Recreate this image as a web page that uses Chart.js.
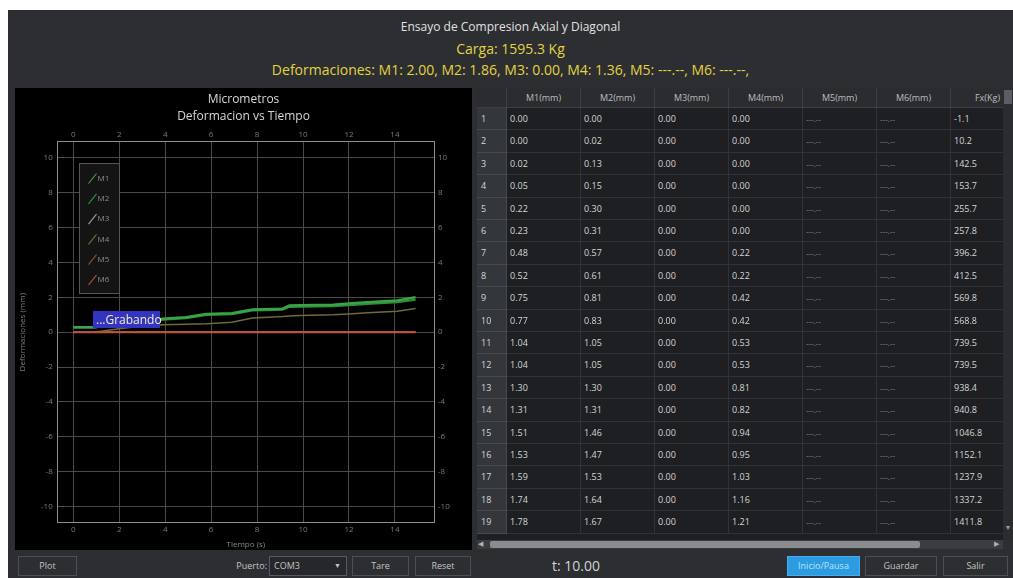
<!DOCTYPE html>
<html>
<head>
<meta charset="utf-8">
<script src="https://cdn.jsdelivr.net/npm/chart.js@4"></script>
<style>
html,body{margin:0;padding:0;width:1013px;height:578px;overflow:hidden;background:#ffffff;font-family:"Open Sans",sans-serif;}
.abs{position:absolute;}
#panel{left:8px;top:10px;width:1005px;height:568px;background:#2c2e31;}
.title{left:8px;width:1005px;text-align:center;white-space:nowrap;}
#chartBox{left:15px;top:88px;width:457px;height:462px;background:#000;}
#grab{left:93px;top:311px;width:67px;height:17px;background:#3434c2;color:#f1efc4;font-size:12px;line-height:17px;padding-left:3px;box-sizing:border-box;white-space:nowrap;}
#tabla{left:477px;top:88px;width:526px;height:452px;overflow:hidden;background:#1d1f22;}
.cell{position:absolute;box-sizing:border-box;border-right:1px solid #303236;border-bottom:1px solid #303236;font-size:9px;color:#d6d6d6;white-space:nowrap;overflow:hidden;padding-left:3px;}
.hdr{background:#2a2c30;color:#bdbdbd;text-align:center;padding-left:0;border-color:#3c3f44;}
.rn{background:#33363b;border-color:#45484d;padding-left:4px;}
.dash{color:#8e8e8e;font-size:8px;}
.btn{position:absolute;box-sizing:border-box;border:1px solid #4c4f54;background:#2c2e31;color:#c4c4c4;font-size:9px;text-align:center;}
</style>
</head>
<body>
<div id="panel" class="abs"></div>
<div class="abs title" style="top:19px;font-size:12px;line-height:16px;color:#e2e2e2;">Ensayo de Compresion Axial y Diagonal</div>
<div class="abs title" style="top:40px;font-size:14px;line-height:18px;color:#e4d243;">Carga: 1595.3 Kg</div>
<div class="abs title" style="top:60px;font-size:14px;line-height:20px;color:#e4d243;">Deformaciones: M1: 2.00, M2: 1.86, M3: 0.00, M4: 1.36, M5: ---.--, M6: ---.--,</div>

<div id="chartBox" class="abs"><canvas id="c" width="457" height="462"></canvas></div>
<div id="grab" class="abs">...Grabando</div>

<div id="tabla" class="abs"></div>
<!-- vertical scrollbar -->
<div class="abs" style="left:1003px;top:88px;width:10px;height:452px;background:#2a2c30;"></div>
<div class="abs" style="left:1004px;top:90px;width:8px;height:14px;background:#5a5d62;"></div>
<div class="abs" style="left:1003px;top:523px;width:10px;height:12px;color:#9a9a9a;font-size:7px;text-align:center;">&#9660;</div>
<!-- horizontal scrollbar -->
<div class="abs" style="left:477px;top:540px;width:526px;height:9px;background:#3a3c40;"></div>
<div class="abs" style="left:490px;top:541px;width:430px;height:7px;background:#8a8c90;border-radius:2px;"></div>
<div class="abs" style="left:478px;top:539px;width:10px;height:10px;color:#b0b0b0;font-size:7px;line-height:10px;">&#9664;</div>
<div class="abs" style="left:994px;top:539px;width:10px;height:10px;color:#b0b0b0;font-size:7px;line-height:10px;">&#9654;</div>

<!-- bottom bar -->
<div class="btn" style="left:18px;top:556px;width:59px;height:20px;line-height:18px;">Plot</div>
<div class="abs" style="left:200px;top:556px;width:67px;height:20px;line-height:20px;text-align:right;color:#c4c4c4;font-size:9px;">Puerto:</div>
<div class="btn" style="left:269px;top:556px;width:78px;height:20px;line-height:18px;text-align:left;padding-left:4px;background:#25272b;border-color:#575a60;">COM3<span style="position:absolute;right:5px;font-size:7px;">&#9660;</span></div>
<div class="btn" style="left:352px;top:556px;width:57px;height:20px;line-height:18px;">Tare</div>
<div class="btn" style="left:415px;top:556px;width:56px;height:20px;line-height:18px;">Reset</div>
<div class="abs" style="left:540px;top:556px;width:72px;height:20px;line-height:20px;color:#d2d2d2;font-size:14px;text-align:center;">t: 10.00</div>
<div class="btn" style="left:787px;top:556px;width:73px;height:20px;line-height:18px;background:#2b9ce0;border-color:#46aef0;color:#bfe3fa;">Inicio/Pausa</div>
<div class="btn" style="left:865px;top:556px;width:72px;height:20px;line-height:18px;">Guardar</div>
<div class="btn" style="left:943px;top:556px;width:65px;height:20px;line-height:18px;">Salir</div>

<script>
// ---------- Chart data ----------
const tiempo = [0, 0.9, 2.0, 3.0, 3.9, 4.9, 5.8, 6.9, 7.8, 9.1, 9.4, 9.9, 11.3, 12.0, 12.8, 14.1, 14.9];
const m1 = [0.29, 0.29, 0.45, 0.60, 0.77, 0.86, 1.05, 1.09, 1.30, 1.34, 1.53, 1.54, 1.57, 1.64, 1.72, 1.82, 2.00];
const m2 = [0.27, 0.27, 0.42, 0.56, 0.72, 0.80, 0.98, 1.03, 1.24, 1.28, 1.45, 1.46, 1.49, 1.55, 1.62, 1.72, 1.86];
const m3 = [0, 0, 0, 0, 0, 0, 0, 0, 0, 0, 0, 0, 0, 0, 0, 0, 0];
const m4 = [0.00, 0.00, 0.20, 0.35, 0.42, 0.45, 0.48, 0.57, 0.82, 0.90, 0.93, 0.96, 1.00, 1.05, 1.12, 1.20, 1.36];
const m5 = [0, 0, 0, 0, 0, 0, 0, 0, 0, 0, 0, 0, 0, 0, 0, 0, 0];
const m6 = [0, 0, 0, 0, 0, 0, 0, 0, 0, 0, 0, 0, 0, 0, 0, 0, 0];
const seriesNames = ['M1', 'M2', 'M3', 'M4', 'M5', 'M6'];
const xTicks = [0, 2, 4, 6, 8, 10, 12, 14];
const yTicks = [-10, -8, -6, -4, -2, 0, 2, 4, 6, 8, 10];

// ---------- Table data ----------
const tablaM1 = [0.00, 0.00, 0.02, 0.05, 0.22, 0.23, 0.48, 0.52, 0.75, 0.77, 1.04, 1.04, 1.30, 1.31, 1.51, 1.53, 1.59, 1.74, 1.78];
const tablaM2 = [0.00, 0.02, 0.13, 0.15, 0.30, 0.31, 0.57, 0.61, 0.81, 0.83, 1.05, 1.05, 1.30, 1.31, 1.46, 1.47, 1.53, 1.64, 1.67];
const tablaM3 = [0, 0, 0, 0, 0, 0, 0, 0, 0, 0, 0, 0, 0, 0, 0, 0, 0, 0, 0];
const tablaM4 = [0.00, 0.00, 0.00, 0.00, 0.00, 0.00, 0.22, 0.22, 0.42, 0.42, 0.53, 0.53, 0.81, 0.82, 0.94, 0.95, 1.03, 1.16, 1.21];
const tablaFx = [-1.1, 10.2, 142.5, 153.7, 255.7, 257.8, 396.2, 412.5, 569.8, 568.8, 739.5, 739.5, 938.4, 940.8, 1046.8, 1152.1, 1237.9, 1337.2, 1411.8];
const columnas = ['M1(mm)', 'M2(mm)', 'M3(mm)', 'M4(mm)', 'M5(mm)', 'M6(mm)', 'Fx(Kg)'];

// ---------- build table ----------
(function(){
  const t = document.getElementById('tabla');
  const rnW = 30, colW = 74, hdrH = 20, rowH = 22.4;
  let html = '<div class="cell hdr" style="left:0;top:0;width:'+rnW+'px;height:'+hdrH+'px;"></div>';
  columnas.forEach((c,i)=>{
    html += '<div class="cell hdr" style="left:'+(rnW+i*colW)+'px;top:0;width:'+colW+'px;height:'+hdrH+'px;line-height:'+hdrH+'px;">'+c+'</div>';
  });
  for(let r=0;r<tablaM1.length;r++){
    const top = hdrH + r*rowH;
    const lh = 'height:'+rowH+'px;line-height:'+rowH+'px;top:'+top+'px;';
    html += '<div class="cell rn" style="left:0;width:'+rnW+'px;'+lh+'">'+(r+1)+'</div>';
    const vals = [tablaM1[r].toFixed(2), tablaM2[r].toFixed(2), tablaM3[r].toFixed(2), tablaM4[r].toFixed(2), null, null, tablaFx[r].toFixed(1)];
    vals.forEach((v,i)=>{
      const txt = v===null ? '<span class="dash">---.--</span>' : v;
      html += '<div class="cell" style="left:'+(rnW+i*colW)+'px;width:'+colW+'px;'+lh+'">'+txt+'</div>';
    });
  }
  t.innerHTML = html;
})();

// ---------- chart ----------
const colores = ['#3aa545', '#2e8f3a', '#9a9a9a', '#6f6a3c', '#8a4a38', '#c0533c'];
const anchos = [2.5, 2, 1.5, 1.5, 1.5, 2];
const ordenes = [1, 2, 6, 5, 4, 3];
const datos = [m1, m2, m3, m4, m5, m6];

const legendBox = {
  id: 'legendBox',
  afterDatasetsDraw(chart){
    const {ctx, chartArea:a} = chart;
    const x0 = Math.round(a.left + 21) + 0.5, y0 = Math.round(a.top + 21) + 0.5, w = 40, h = 130;
    ctx.save();
    ctx.fillStyle = '#141414';
    ctx.fillRect(x0, y0, w, h);
    ctx.strokeStyle = '#555555';
    ctx.lineWidth = 1;
    ctx.strokeRect(x0, y0, w, h);
    chart.data.datasets.forEach((ds, i) => {
      const cy = y0 + 15 + i * 20.3;
      ctx.strokeStyle = ds.borderColor;
      ctx.lineWidth = 1.2;
      ctx.beginPath();
      ctx.moveTo(x0 + 9, cy + 5);
      ctx.lineTo(x0 + 17, cy - 5);
      ctx.stroke();
      ctx.fillStyle = '#8c8c8c';
      ctx.font = '8px "Open Sans"';
      ctx.textBaseline = 'middle';
      ctx.textAlign = 'left';
      ctx.fillText(ds.label, x0 + 18, cy);
    });
    ctx.restore();
  }
};

const tickFont = {family: 'Open Sans', size: 8};
const tickColor = '#7a7a7a';
const gridColor = '#4a4a4a';
const frameColor = '#8e8e8e';
const xMin = -0.68, xMax = 15.7, yMin = -10.92, yMax = 10.92;

const xTickCb = v => xTicks.includes(v) ? String(v) : '';
const yTickCb = v => yTicks.includes(v) ? String(v) : '';

new Chart(document.getElementById('c'), {
  type: 'line',
  data: {
    datasets: seriesNames.map((n, i) => ({
      label: n,
      data: tiempo.map((t, k) => ({x: t, y: datos[i][k]})),
      borderColor: colores[i],
      backgroundColor: colores[i],
      borderWidth: anchos[i],
      pointRadius: 0,
      tension: 0,
      fill: false,
      order: ordenes[i]
    }))
  },
  options: {
    animation: false,
    responsive: false,
    events: [],
    layout: {padding: 0},
    plugins: {
      legend: {display: false},
      tooltip: {enabled: false},
      title: {
        display: true,
        text: ['Micrometros', 'Deformacion vs Tiempo'],
        color: '#d6d6d6',
        font: {family: 'Open Sans', size: 12, weight: 'normal', lineHeight: 1.45},
        padding: {top: 2.5, bottom: 0}
      }
    },
    scales: {
      x: {
        type: 'linear', position: 'bottom', min: xMin, max: xMax,
        ticks: {stepSize: 2, includeBounds: false, color: tickColor, font: tickFont, padding: 2, maxRotation: 0, callback: xTickCb},
        grid: {color: gridColor, drawTicks: false},
        border: {display: true, color: frameColor},
        title: {display: true, text: 'Tiempo (s)', color: '#858585', font: {family: 'Open Sans', size: 8}, padding: {top: 0, bottom: 0}},
        afterFit: s => { s.height = 27.3; }
      },
      x2: {
        type: 'linear', position: 'top', min: xMin, max: xMax,
        ticks: {stepSize: 2, includeBounds: false, color: tickColor, font: tickFont, padding: 2, maxRotation: 0, callback: xTickCb},
        grid: {display: false, drawTicks: false},
        border: {display: true, color: frameColor},
        afterFit: s => { s.height = 16.4; }
      },
      y: {
        type: 'linear', position: 'left', min: yMin, max: yMax,
        ticks: {stepSize: 2, includeBounds: false, color: tickColor, font: tickFont, padding: 5, callback: yTickCb},
        grid: {color: gridColor, drawTicks: false},
        border: {display: true, color: frameColor},
        title: {display: true, text: 'Deformaciones (mm)', color: '#7d7d7d', font: {family: 'Open Sans', size: 8}, padding: {top: 3.2, bottom: 0}},
        afterFit: s => { s.width = 42.7; }
      },
      y2: {
        type: 'linear', position: 'right', min: yMin, max: yMax,
        ticks: {stepSize: 2, includeBounds: false, color: tickColor, font: tickFont, padding: 4, callback: yTickCb},
        grid: {display: false, drawTicks: false},
        border: {display: true, color: frameColor},
        afterFit: s => { s.width = 38; }
      }
    }
  },
  plugins: [legendBox]
});
</script>
</body>
</html>
